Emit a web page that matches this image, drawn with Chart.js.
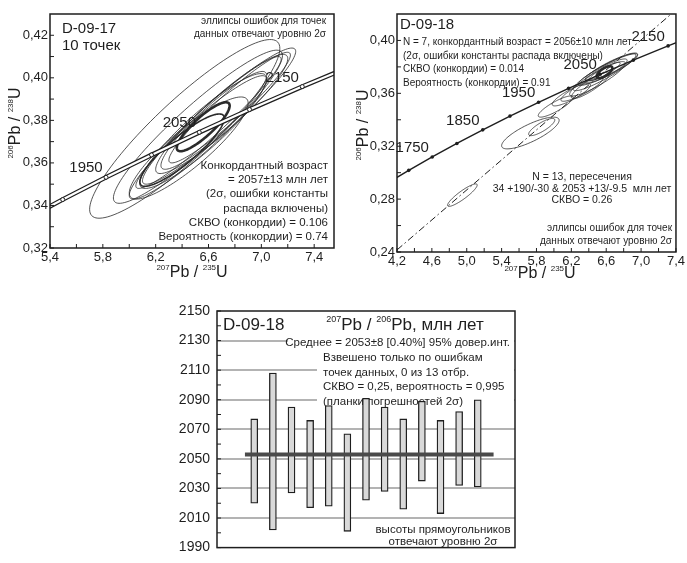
<!DOCTYPE html>
<html>
<head>
<meta charset="utf-8">
<script src="https://cdn.jsdelivr.net/npm/chart.js@4.4.1/dist/chart.umd.min.js"></script>
<style>
  body { margin: 0; background: #fff; width: 687px; height: 563px; overflow: hidden; position: relative; }
  .panel { position: absolute; }
</style>
</head>
<body>
<div class="panel" style="left:0;top:0;width:344px;height:282px"><canvas id="c1"></canvas></div>
<div class="panel" style="left:344px;top:0;width:343px;height:282px"><canvas id="c2"></canvas></div>
<div class="panel" style="left:150px;top:288px;width:380px;height:275px"><canvas id="c3"></canvas></div>
<script>
// decay constants, 1/Ma
const L235 = 9.8485e-4;
const L238 = 1.55125e-4;
const conX = t => Math.exp(L235 * t) - 1;
const conY = t => Math.exp(L238 * t) - 1;

// --- D-09-17 (top left) ---
const p1XTicks = [5.4, 5.8, 6.2, 6.6, 7.0, 7.4];
const p1YTicks = [0.32, 0.34, 0.36, 0.38, 0.40, 0.42];
const p1Ages = [1850, 1900, 1950, 2000, 2050, 2100, 2150, 2200];
const p1AgeLabels = [1950, 2050, 2150];
// ellipses: [x, y, 2sigma x, 2sigma y, rho]
const p1Ellipses = [
  [6.42, 0.376, 0.72, 0.042, 0.90],
  [6.52, 0.377, 0.64, 0.036, 0.93],
  [6.68, 0.382, 0.58, 0.032, 0.95],
  [6.60, 0.379, 0.55, 0.031, 0.96],
  [6.70, 0.383, 0.50, 0.028, 0.93],
  [6.56, 0.375, 0.48, 0.027, 0.91],
  [6.76, 0.386, 0.46, 0.026, 0.95],
  [6.52, 0.372, 0.52, 0.029, 0.94],
  [6.64, 0.380, 0.40, 0.023, 0.92],
  [6.45, 0.367, 0.45, 0.024, 0.88]
];
const p1Mean = [6.40, 0.366, 0.32, 0.017, 0.88];
const p1Concordia = [6.56, 0.377, 0.20, 0.0115, 0.86];

// --- D-09-18 (top right) ---
const p2XTicks = [4.2, 4.6, 5.0, 5.4, 5.8, 6.2, 6.6, 7.0, 7.4];
const p2YTicks = [0.24, 0.28, 0.32, 0.36, 0.40];
const p2Ages = [1650, 1700, 1750, 1800, 1850, 1900, 1950, 2000, 2050, 2100, 2150, 2200];
const p2AgeLabels = [1750, 1850, 1950, 2050, 2150];
const p2Intercepts = [34, 2053];
const p2Ellipses = [
  [4.95, 0.2830, 0.17, 0.0085, 0.90],
  [5.73, 0.3300, 0.33, 0.0120, 0.80],
  [5.86, 0.3345, 0.15, 0.0065, 0.82],
  [6.02, 0.3500, 0.20, 0.0080, 0.86],
  [6.20, 0.3590, 0.22, 0.0085, 0.86],
  [6.32, 0.3630, 0.24, 0.0090, 0.88],
  [6.42, 0.3660, 0.22, 0.0100, 0.88],
  [6.50, 0.3710, 0.32, 0.0130, 0.90],
  [6.58, 0.3760, 0.36, 0.0140, 0.92],
  [6.62, 0.3780, 0.34, 0.0120, 0.92],
  [6.66, 0.3800, 0.30, 0.0105, 0.90],
  [6.58, 0.3765, 0.18, 0.0070, 0.90],
  [6.60, 0.3770, 0.24, 0.0090, 0.88]
];
const p2Concordia = [6.58, 0.3760, 0.09, 0.0045, 0.70];

// --- D-09-18 207Pb/206Pb ages (bottom) ---
const p3YTicks = [1990, 2010, 2030, 2050, 2070, 2090, 2110, 2130, 2150];
const p3Spots = [1, 2, 3, 4, 5, 6, 7, 8, 9, 10, 11, 12, 13];
const p3Low  = [2020, 2002, 2027, 2017, 2018, 2001, 2022, 2028, 2016, 2035, 2013, 2032, 2031];
const p3High = [2077, 2108, 2085, 2076, 2086, 2067, 2091, 2085, 2077, 2089, 2076, 2082, 2090];
const p3Mean = 2053;

const FAMILY = '"Liberation Sans", Arial, Helvetica, sans-serif';
const INK = '#1e1e1e';
Chart.defaults.font.family = FAMILY;
Chart.defaults.color = INK;

function font(size) { return size + 'px ' + FAMILY; }
const dec = n => v => v.toFixed(n).replace('.', ',');
const mids = arr => arr.slice(1).map((v, i) => (v + arr[i]) / 2);

function rich(ctx, parts, x, y, align) {
  let w = 0;
  parts.forEach(p => { ctx.font = font(p[1]); w += ctx.measureText(p[0]).width; });
  let cx = align === 'center' ? x - w / 2 : align === 'right' ? x - w : x;
  ctx.textAlign = 'left';
  parts.forEach(p => {
    ctx.font = font(p[1]);
    ctx.fillText(p[0], cx, y + (p[2] || 0));
    cx += ctx.measureText(p[0]).width;
  });
}

function lines(ctx, arr, x, y0, step, size, align) {
  ctx.font = font(size);
  ctx.textAlign = align;
  arr.forEach((s, i) => ctx.fillText(s, x, y0 + i * step));
}

function ellipse(ctx, xs, ys, e, lw) {
  const [cx, cy, a, b, r] = e;
  const s = Math.sqrt(1 - r * r);
  ctx.beginPath();
  for (let i = 0; i <= 120; i++) {
    const th = i / 120 * Math.PI * 2;
    const px = xs.getPixelForValue(cx + a * Math.cos(th));
    const py = ys.getPixelForValue(cy + b * (r * Math.cos(th) + s * Math.sin(th)));
    if (i) ctx.lineTo(px, py); else ctx.moveTo(px, py);
  }
  ctx.closePath();
  ctx.lineWidth = lw;
  ctx.stroke();
}

function frame(ctx, ca, xs, ys, xVals, yVals) {
  ctx.strokeStyle = INK;
  ctx.lineWidth = 1;
  ctx.beginPath();
  xVals.forEach(v => { const p = xs.getPixelForValue(v); ctx.moveTo(p, ca.bottom); ctx.lineTo(p, ca.bottom - 4); });
  yVals.forEach(v => { const p = ys.getPixelForValue(v); ctx.moveTo(ca.left, p); ctx.lineTo(ca.left + 4, p); });
  ctx.stroke();
  ctx.lineWidth = 1.5;
  ctx.strokeRect(ca.left, ca.top, ca.right - ca.left, ca.bottom - ca.top);
}

function clipArea(ctx, ca) {
  ctx.beginPath();
  ctx.rect(ca.left, ca.top, ca.right - ca.left, ca.bottom - ca.top);
  ctx.clip();
}

const axisTitleX = [['207', 8, -7], ['Pb / ', 16], ['235', 8, -7], ['U', 16]];
const axisTitleY = [['206', 8, -7], ['Pb / ', 16], ['238', 8, -7], ['U', 16]];

function drawYTitle(ctx, x, y) {
  ctx.save();
  ctx.translate(x, y);
  ctx.rotate(-Math.PI / 2);
  rich(ctx, axisTitleY, 0, 0, 'center');
  ctx.restore();
}

function tickScale(ticks, fixed, fmt, extra) {
  return Object.assign({
    type: 'linear',
    min: ticks[0],
    grid: { display: false, drawTicks: false },
    border: { display: false },
    afterBuildTicks: axis => { axis.ticks = ticks.map(v => ({ value: v })); },
    ticks: { autoSkip: false, maxRotation: 0, padding: 2, font: { size: 13 }, color: INK, callback: v => fmt(v) }
  }, extra, { afterFit: fixed });
}

const baseOptions = pad => ({
  responsive: true,
  maintainAspectRatio: false,
  animation: false,
  layout: { padding: pad },
  plugins: { legend: { display: false }, tooltip: { enabled: false } }
});

// ---------- chart 1 ----------
const p1Line = p1Ages.map(t => ({ x: conX(t), y: conY(t) }));
new Chart(document.getElementById('c1'), {
  type: 'scatter',
  data: {
    datasets: [
      { data: p1Line.slice(1, -1), pointRadius: 2, pointBackgroundColor: '#fff', pointBorderColor: INK, pointBorderWidth: 1, order: 1 },
      { data: p1Line, showLine: true, borderColor: '#fff', borderWidth: 2.2, pointRadius: 0, order: 2 },
      { data: p1Line, showLine: true, borderColor: INK, borderWidth: 4.6, pointRadius: 0, order: 3 }
    ]
  },
  options: Object.assign(baseOptions({ top: 14, right: 10, left: 0, bottom: 0 }), {
    scales: {
      x: tickScale(p1XTicks, s => { s.height = 34; }, dec(1), { max: 7.55 }),
      y: tickScale(p1YTicks, s => { s.width = 50; }, dec(2), { max: 0.43 })
    }
  }),
  plugins: [{
    id: 'p1',
    beforeDatasetsDraw(chart) {
      const { ctx, chartArea: ca, scales: { x, y } } = chart;
      ctx.save();
      clipArea(ctx, ca);
      ctx.strokeStyle = '#2a2a2a';
      p1Ellipses.forEach(e => ellipse(ctx, x, y, e, 0.8));
      ellipse(ctx, x, y, p1Mean, 1.6);
      ellipse(ctx, x, y, p1Concordia, 2.6);
      ctx.restore();
    },
    afterDatasetsDraw(chart) {
      const { ctx, chartArea: ca, scales: { x, y } } = chart;
      ctx.save();
      frame(ctx, ca, x, y, mids(p1XTicks).concat(p1XTicks), mids(p1YTicks).concat(p1YTicks));
      ctx.fillStyle = INK;
      lines(ctx, ['D-09-17', '10 точек'], 62, 33, 17, 15, 'left');
      lines(ctx, ['эллипсы ошибок для точек', 'данных отвечают уровню 2σ'], 326, 24, 13, 10, 'right');
      ctx.font = font(15);
      ctx.textAlign = 'center';
      p1AgeLabels.forEach(t => {
        ctx.fillText(String(t), x.getPixelForValue(conX(t)) - 20, y.getPixelForValue(conY(t)) - 5);
      });
      lines(ctx, ['Конкордантный возраст', '= 2057±13 млн лет', '(2σ, ошибки константы',
        'распада включены)', 'СКВО (конкордии) = 0.106', 'Вероятность (конкордии) = 0.74'], 328, 169, 14.2, 11.5, 'right');
      rich(ctx, axisTitleX, 192, 277, 'center');
      drawYTitle(ctx, 20, 123);
      ctx.restore();
    }
  }]
});

// ---------- chart 2 ----------
const p2Line = p2Ages.map(t => ({ x: conX(t), y: conY(t) }));
new Chart(document.getElementById('c2'), {
  type: 'scatter',
  data: {
    datasets: [
      { data: p2Line, showLine: true, borderColor: INK, borderWidth: 1.4, pointRadius: 1.8, pointBackgroundColor: INK, pointBorderWidth: 0 }
    ]
  },
  options: Object.assign(baseOptions({ top: 14, right: 7, left: 0, bottom: 0 }), {
    scales: {
      x: tickScale(p2XTicks, s => { s.height = 30; }, dec(1), { max: 7.4 }),
      y: tickScale(p2YTicks, s => { s.width = 53; }, dec(2), { max: 0.42 })
    }
  }),
  plugins: [{
    id: 'p2',
    beforeDatasetsDraw(chart) {
      const { ctx, chartArea: ca, scales: { x, y } } = chart;
      ctx.save();
      clipArea(ctx, ca);
      // discordia through the two intercepts, carried to both edges
      const [t1, t2] = p2Intercepts;
      const x1 = conX(t1), y1 = conY(t1), x2 = conX(t2), y2 = conY(t2);
      const k = (y2 - y1) / (x2 - x1);
      ctx.strokeStyle = INK;
      ctx.lineWidth = 1;
      ctx.setLineDash([7, 3, 1.5, 3]);
      ctx.beginPath();
      ctx.moveTo(x.getPixelForValue(x.min), y.getPixelForValue(y1 + k * (x.min - x1)));
      ctx.lineTo(x.getPixelForValue(x.max), y.getPixelForValue(y1 + k * (x.max - x1)));
      ctx.stroke();
      ctx.setLineDash([]);
      ctx.strokeStyle = '#2a2a2a';
      p2Ellipses.forEach(e => ellipse(ctx, x, y, e, 0.8));
      ellipse(ctx, x, y, p2Concordia, 2.6);
      ctx.restore();
    },
    afterDatasetsDraw(chart) {
      const { ctx, chartArea: ca, scales: { x, y } } = chart;
      ctx.save();
      frame(ctx, ca, x, y, mids(p2XTicks).concat(p2XTicks), mids(p2YTicks).concat(p2YTicks));
      ctx.fillStyle = INK;
      lines(ctx, ['D-09-18'], 56, 29, 0, 15, 'left');
      lines(ctx, ['N = 7, конкордантный возраст = 2056±10 млн лет', '(2σ, ошибки константы распада включены)',
        'СКВО (конкордии) = 0.014', 'Вероятность (конкордии) = 0.91'], 59, 45, 13.5, 10, 'left');
      ctx.font = font(15);
      ctx.textAlign = 'center';
      p2AgeLabels.forEach(t => {
        ctx.fillText(String(t), x.getPixelForValue(conX(t)) - 20, y.getPixelForValue(conY(t)) - 5);
      });
      lines(ctx, ['N = 13, пересечения', '34 +190/-30 & 2053 +13/-9.5  млн лет', 'СКВО = 0.26'], 238, 180, 11.5, 10.5, 'center');
      lines(ctx, ['эллипсы ошибок для точек', 'данных отвечают уровню 2σ'], 328, 231, 13, 10, 'right');
      rich(ctx, axisTitleX, 196, 278, 'center');
      drawYTitle(ctx, 24, 125);
      ctx.restore();
    }
  }]
});

// ---------- chart 3 ----------
new Chart(document.getElementById('c3'), {
  type: 'bar',
  data: {
    datasets: [
      { type: 'line', data: [{ x: 0.5, y: p3Mean }, { x: 13.85, y: p3Mean }], borderColor: '#4a4a4a', borderWidth: 4, pointRadius: 0, order: 0 },
      { type: 'bar', data: p3Spots.map((s, i) => ({ x: s, y: [p3Low[i], p3High[i]] })),
        backgroundColor: '#d9d9d9', borderColor: INK, borderWidth: 1.3, borderSkipped: false, barThickness: 7, order: 1 }
    ]
  },
  options: Object.assign(baseOptions({ top: 23, right: 15, left: 0, bottom: 5 }), {
    scales: {
      x: { type: 'linear', min: 0, max: 14, display: false },
      y: {
        min: 1990, max: 2150,
        afterBuildTicks: axis => { axis.ticks = p3YTicks.map(v => ({ value: v })); },
        afterFit: s => { s.width = 67; },
        border: { display: false },
        grid: {
          drawTicks: false, lineWidth: 2,
          color: c => (c.tick && c.tick.value > p3YTicks[0] && c.tick.value < p3YTicks[p3YTicks.length - 1]) ? '#b3b3b3' : 'rgba(0,0,0,0)'
        },
        ticks: { padding: 7, font: { size: 14 }, color: INK, autoSkip: false, callback: v => String(v) }
      }
    }
  }),
  plugins: [{
    id: 'p3',
    beforeDatasetsDraw(chart) {
      const { ctx, chartArea: ca } = chart;
      ctx.save();
      ctx.fillStyle = '#fff';
      ctx.fillRect(ca.left + 71, ca.top + 27, ca.right - ca.left - 72, 13);
      ctx.fillRect(ca.left + 100, ca.top + 40, ca.right - ca.left - 101, 50);
      ctx.fillStyle = INK;
      lines(ctx, ['D-09-18'], ca.left + 6, ca.top + 19, 0, 17, 'left');
      rich(ctx, [['207', 9, -8], ['Pb / ', 17], ['206', 9, -8], ['Pb, млн лет', 17]], 255, ca.top + 19, 'center');
      lines(ctx, ['Среднее = 2053±8 [0.40%] 95% довер.инт.'], ca.right - 5, ca.top + 35, 0, 11.5, 'right');
      lines(ctx, ['Взвешено только по ошибкам', 'точек данных, 0 из 13 отбр.',
        'СКВО = 0,25, вероятность = 0,995', '(планки погрешностей 2σ)'], ca.left + 106, ca.top + 50, 14.5, 11.5, 'left');
      lines(ctx, ['высоты прямоугольников', 'отвечают уровню 2σ'], ca.left + 226, ca.bottom - 15, 12.5, 11.5, 'center');
      ctx.restore();
    },
    afterDatasetsDraw(chart) {
      const { ctx, chartArea: ca, scales: { x, y } } = chart;
      ctx.save();
      frame(ctx, ca, x, y, [], mids(p3YTicks).concat(p3YTicks));
      ctx.restore();
    }
  }]
});
</script>
</body>
</html>
